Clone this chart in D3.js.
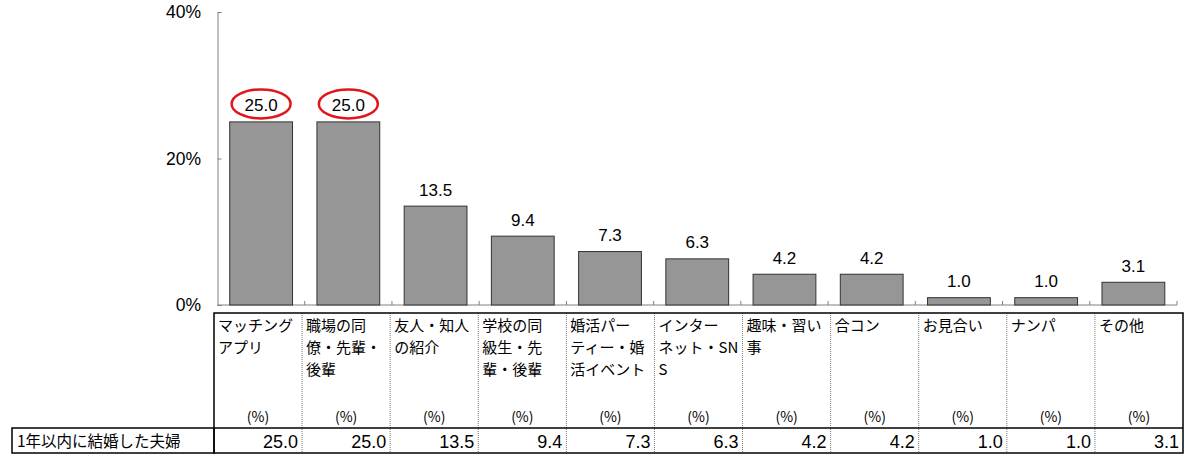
<!DOCTYPE html>
<html><head><meta charset="utf-8">
<script src="https://cdn.jsdelivr.net/npm/d3@7"></script>
<style>
html,body{margin:0;padding:0;background:#fff;}
svg{display:block;}
</style>
</head><body>
<svg id="c" width="1200" height="466"></svg>
<script>
const categories = [
  ["マッチング","アプリ"],
  ["職場の同","僚・先輩・","後輩"],
  ["友人・知人","の紹介"],
  ["学校の同","級生・先","輩・後輩"],
  ["婚活パー","ティー・婚","活イベント"],
  ["インター","ネット・SN","S"],
  ["趣味・習い","事"],
  ["合コン"],
  ["お見合い"],
  ["ナンパ"],
  ["その他"]
];
const values = [25.0, 25.0, 13.5, 9.4, 7.3, 6.3, 4.2, 4.2, 1.0, 1.0, 3.1];
const highlighted = [0, 1];
const yTicks = [0, 20, 40];
const yTickLabels = ["0%", "20%", "40%"];
const rowLabel = "1年以内に結婚した夫婦";
const unitLabel = "(%)";

const svg = d3.select("#c");
const keys = categories.map((d, i) => i);
const numFont = "'Liberation Sans', Arial, sans-serif";
const jpFont = "'Noto Sans CJK JP', sans-serif";

const x = d3.scaleBand().domain(keys).range([217.5, 1177]).paddingInner(0.28).paddingOuter(0.14);
const y = d3.scaleLinear().domain([0, 40]).range([305, 12]);
const tx = d3.scaleBand().domain(keys).range([214, 1183]).padding(0);

// y axis
const yAxis = d3.axisLeft(y).tickValues(yTicks).tickSize(-4).tickFormat("");
const gy = svg.append("g").attr("transform", `translate(${x.range()[0]},0)`).call(yAxis);
gy.select(".domain").attr("stroke", "#808080");
gy.selectAll(".tick line").attr("stroke", "#808080");
svg.append("g").selectAll("text").data(yTicks).join("text")
  .attr("x", 201).attr("y", d => y(d) + 6).attr("text-anchor", "end")
  .attr("font-family", numFont).attr("font-size", 17.5).attr("fill", "#000")
  .text((d, i) => yTickLabels[i]);

// x axis baseline with small ticks at category boundaries
const step = x.step();
const bounds = d3.range(keys.length + 1).map(i => x.range()[0] + i * step);
svg.append("line").attr("x1", x.range()[0]).attr("x2", x.range()[1])
  .attr("y1", y(0)).attr("y2", y(0)).attr("stroke", "#808080");
svg.append("g").selectAll("line").data(bounds.slice(1)).join("line")
  .attr("x1", d => d).attr("x2", d => d).attr("y1", y(0)).attr("y2", y(0) - 4)
  .attr("stroke", "#808080");

// bars
svg.append("g").selectAll("rect").data(values).join("rect")
  .attr("x", (d, i) => x(i)).attr("width", x.bandwidth())
  .attr("y", d => y(d)).attr("height", d => y(0) - y(d))
  .attr("fill", "#969696").attr("stroke", "#333").attr("stroke-width", 1);

// value labels
svg.append("g").selectAll("text").data(values).join("text")
  .attr("x", (d, i) => x(i) + x.bandwidth() / 2).attr("y", d => y(d) - 10.5)
  .attr("text-anchor", "middle").attr("font-family", numFont).attr("font-size", 17)
  .attr("fill", "#000").text(d => d.toFixed(1));

// red ellipses
svg.append("g").selectAll("ellipse").data(highlighted).join("ellipse")
  .attr("cx", i => x(i) + x.bandwidth() / 2).attr("cy", i => y(values[i]) - 18)
  .attr("rx", 29.5).attr("ry", 14.5)
  .attr("fill", "none").attr("stroke", "#e0161b").attr("stroke-width", 2.5);

// table
const tTop = 313, tMid = 428, tBot = 453, tLeft = 12;
const tRight = tx.range()[1];
const tg = svg.append("g");
// inner dotted dividers
tg.selectAll("line.div").data(keys.slice(1)).join("line").attr("class", "div")
  .attr("x1", i => tx(i)).attr("x2", i => tx(i)).attr("y1", tTop).attr("y2", tBot)
  .attr("stroke", "#777").attr("stroke-width", 1).attr("stroke-dasharray", "1,1");
// outer borders
tg.append("rect").attr("x", tx.range()[0]).attr("y", tTop)
  .attr("width", tRight - tx.range()[0]).attr("height", tBot - tTop)
  .attr("fill", "none").attr("stroke", "#000").attr("stroke-width", 1.5);
tg.append("rect").attr("x", tLeft).attr("y", tMid)
  .attr("width", tx.range()[0] - tLeft).attr("height", tBot - tMid)
  .attr("fill", "none").attr("stroke", "#000").attr("stroke-width", 1.5);
tg.append("line").attr("x1", tx.range()[0]).attr("x2", tRight)
  .attr("y1", tMid).attr("y2", tMid).attr("stroke", "#000").attr("stroke-width", 1.5);

// header labels
const hdr = tg.selectAll("text.hdr").data(categories).join("text").attr("class", "hdr")
  .attr("x", (d, i) => tx(i) + 4).attr("y", 331)
  .attr("font-family", jpFont).attr("font-size", 15).attr("fill", "#000");
hdr.selectAll("tspan").data(d => d).join("tspan")
  .attr("x", function () { return d3.select(this.parentNode).attr("x"); })
  .attr("dy", (d, j) => j === 0 ? 0 : 22).text(d => d);

// unit labels
tg.selectAll("text.unit").data(keys).join("text").attr("class", "unit")
  .attr("x", i => tx(i) + tx.bandwidth() / 2).attr("y", 421.5)
  .attr("text-anchor", "middle").attr("font-family", jpFont).attr("font-size", 14)
  .attr("fill", "#000").text(unitLabel);

// data row values
tg.selectAll("text.val").data(values).join("text").attr("class", "val")
  .attr("x", (d, i) => tx(i) + tx.bandwidth() - 4).attr("y", 447.5)
  .attr("text-anchor", "end").attr("font-family", numFont).attr("font-size", 18)
  .attr("fill", "#000").text(d => d.toFixed(1));

// row label
tg.append("text").attr("x", tLeft + 5).attr("y", 446.5)
  .attr("font-family", jpFont).attr("font-size", 15.5).attr("fill", "#000").text(rowLabel);
</script>
</body></html>
